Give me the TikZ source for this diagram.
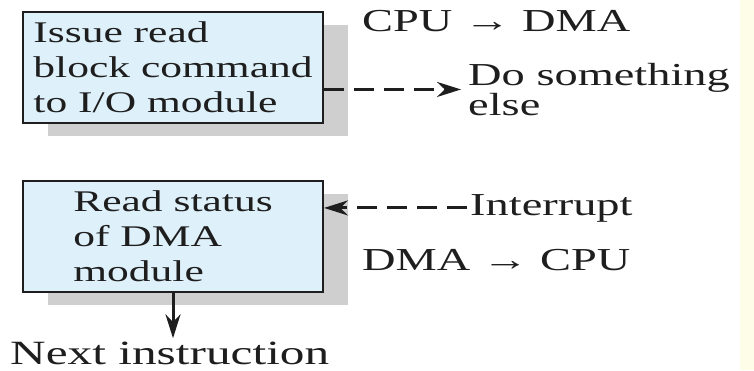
\documentclass[tikz,border=0pt]{standalone}
\usepackage{fontspec}
\usetikzlibrary{arrows.meta,shadows}
\newfontfamily\dmaserif[FakeStretch=1.45]{Liberation Serif}
\newcommand{\boxtext}{\dmaserif\fontsize{30}{35}\selectfont}
\newcommand{\sidetext}{\dmaserif\fontsize{32}{30}\selectfont}
\newcommand{\nexttext}{\dmaserif\fontsize{34}{38}\selectfont}
\definecolor{boxblue}{RGB}{222,240,250}
\definecolor{inkgray}{RGB}{30,30,30}
\definecolor{paleyellow}{RGB}{253,253,232}
\tikzstyle{block} = [draw=inkgray, line width=2pt, fill=boxblue, minimum width=300pt, minimum height=111pt, align=left, text=inkgray, font=\boxtext, drop shadow={shadow xshift=25pt, shadow yshift=-13pt, fill=black!19, opacity=1}]
\tikzstyle{arrow} = [line width=3pt, draw=inkgray, ->, >={Stealth[length=24pt,width=15pt]}]
\tikzstyle{darrow} = [arrow, dash pattern=on 20pt off 10pt]
\begin{document}
\begin{tikzpicture}[x=1pt, y=1pt, inner sep=0pt, text=inkgray]
  \useasboundingbox (0,0) rectangle (754,370);
  \fill[paleyellow] (740,0) rectangle (754,370);
  \node[block] (issue) at (173,302.5) {Issue read\\block command\\to I/O module};
  \node[block] (status) at (173,134) {Read status\\of DMA\\module};
  \node[anchor=base west, font=\sidetext] (cpudma) at (362,338) {CPU → DMA};
  \node[anchor=north west, align=left, font=\sidetext] (doelse) at (468,307) {Do something\\else};
  \node[anchor=base west, font=\sidetext] (intr) at (470,155) {Interrupt};
  \node[anchor=base west, font=\sidetext] (dmacpu) at (362,100) {DMA → CPU};
  \node[anchor=base west, font=\nexttext] (next) at (10,6) {Next instruction};
  \draw[darrow, shorten >=7pt] (issue.east |- doelse.west) -- (doelse.west);
  \draw[darrow, shorten <=3pt] (intr.west) -- (intr.west -| status.east);
  \draw[arrow, shorten >=3pt] (status.south) -- (status.south |- next.north);
\end{tikzpicture}
\end{document}
